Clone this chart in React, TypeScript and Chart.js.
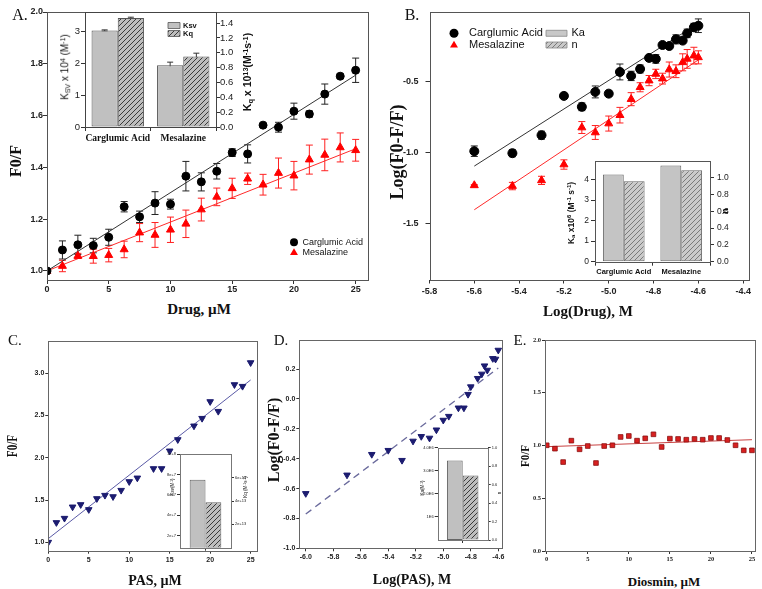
import React, { useEffect, useRef } from "react";
import { Chart, registerables } from "chart.js";
Chart.register(...registerables);

// ---------------- Panel A: Stern-Volmer ----------------
const drugConcA = [0, 1.25, 2.5, 3.75, 5, 6.25, 7.5, 8.75, 10, 11.25, 12.5, 13.75, 15, 16.25, 17.5, 18.75, 20, 21.25, 22.5, 23.75, 25];
const carglumicA = [1.0, 1.081, 1.101, 1.098, 1.13, 1.248, 1.209, 1.262, 1.258, 1.366, 1.344, 1.385, 1.457, 1.452, 1.563, 1.555, 1.617, 1.606, 1.683, 1.752, 1.775];
const carglumicAErr = [0, 0.035, 0.037, 0.028, 0.031, 0.02, 0.022, 0.044, 0.019, 0.057, 0.035, 0.03, 0.015, 0.035, 0.006, 0.019, 0.031, 0.012, 0.039, 0.008, 0.047];
const mesalazineA = [1.0, 1.019, 1.058, 1.057, 1.061, 1.083, 1.148, 1.139, 1.159, 1.182, 1.237, 1.286, 1.319, 1.356, 1.333, 1.378, 1.368, 1.43, 1.448, 1.477, 1.466];
const mesalazineAErr = [0, 0.022, 0.01, 0.027, 0.026, 0.032, 0.035, 0.048, 0.049, 0.053, 0.044, 0.034, 0.039, 0.022, 0.04, 0.058, 0.055, 0.056, 0.061, 0.056, 0.042];
const fitXA = [0, 25];
const carglumicFitA = [1.0, 1.756];
const mesalazineFitA = [1.0, 1.472];
const xTicksA = [0, 5, 10, 15, 20, 25];
const yTicksA = [1.0, 1.2, 1.4, 1.6, 1.8, 2.0];

// Inset A
const insetDrugs = ["Carglumic Acid", "Mesalazine"];
const ksvA = [3.02, 1.93];
const ksvAErr = [0.02, 0.1];
const kqA = [1.47, 0.95];
const kqAErr = [0.01, 0.045];
const ksvTicks = [0, 1, 2, 3];
const kqTicks = [0, 0.2, 0.4, 0.6, 0.8, 1.0, 1.2, 1.4];

// ---------------- Panel B: double log ----------------
const logDrugB = [-5.60, -5.43, -5.30, -5.20, -5.12, -5.06, -5.00, -4.95, -4.90, -4.86, -4.82, -4.79, -4.76, -4.73, -4.70, -4.67, -4.65, -4.62, -4.60];
const carglumicB = [-0.991, -1.005, -0.878, -0.601, -0.678, -0.573, -0.585, -0.432, -0.46, -0.411, -0.333, -0.34, -0.242, -0.249, -0.202, -0.211, -0.16, -0.117, -0.106];
const carglumicBErr = [0.037, 0.025, 0.028, 0.019, 0.027, 0.042, 0.02, 0.056, 0.033, 0.028, 0.013, 0.03, 0.016, 0.014, 0.032, 0.019, 0.03, 0.028, 0.048];
const mesalazineB = [-1.232, -1.237, -1.197, -1.085, -0.824, -0.859, -0.796, -0.737, -0.624, -0.54, -0.493, -0.446, -0.479, -0.415, -0.427, -0.364, -0.34, -0.317, -0.329];
const mesalazineBErr = [0.005, 0.026, 0.029, 0.033, 0.042, 0.049, 0.053, 0.055, 0.046, 0.032, 0.036, 0.033, 0.038, 0.053, 0.045, 0.06, 0.066, 0.059, 0.046];
const fitXB = [-5.6, -4.6];
const carglumicFitB = [-1.096, -0.089];
const mesalazineFitB = [-1.404, -0.347];
const xTicksB = [-5.8, -5.6, -5.4, -5.2, -5.0, -4.8, -4.6, -4.4];
const yTicksB = [-1.5, -1.0, -0.5];

// Inset B
const kaB = [4.24, 4.68];
const nB = [0.96, 1.09];
const kaTicks = [0, 1, 2, 3, 4];
const nTicks = [0, 0.2, 0.4, 0.6, 0.8, 1.0];

// ---------------- Panel C: PAS Stern-Volmer ----------------
const pasConc = [0, 1, 2, 3, 4, 5, 6, 7, 8, 9, 10, 11, 13, 14, 15, 16, 18, 19, 20, 21, 23, 24, 25];
const pasF0F = [1.0, 1.233, 1.284, 1.418, 1.446, 1.387, 1.517, 1.556, 1.54, 1.615, 1.718, 1.761, 1.872, 1.872, 2.081, 2.215, 2.377, 2.467, 2.665, 2.55, 2.866, 2.846, 3.126];
const pasFitX = [0, 25];
const pasFitY = [1.043, 2.921];
const xTicksC = [0, 5, 10, 15, 20, 25];
const yTicksC = [1.0, 1.5, 2.0, 2.5, 3.0];
const ksvPAS = [7.5];
const kqPAS = [3.9];
const ksvPASTicks = [2, 4, 6, 8, 10];
const kqPASTicks = [2, 4, 6];

// ---------------- Panel D: PAS double log ----------------
const logPAS = [-6.00, -5.70, -5.52, -5.40, -5.30, -5.22, -5.16, -5.10, -5.05, -5.00, -4.96, -4.89, -4.85, -4.82, -4.80, -4.75, -4.72, -4.70, -4.68, -4.64, -4.62, -4.60];
const logPASResp = [-0.633, -0.509, -0.371, -0.344, -0.411, -0.282, -0.251, -0.262, -0.207, -0.142, -0.116, -0.06, -0.06, 0.031, 0.082, 0.138, 0.167, 0.222, 0.193, 0.271, 0.267, 0.327];
const logPASFitX = [-6.0, -4.6];
const logPASFitY = [-0.771, 0.207];
const xTicksD = [-6.0, -5.8, -5.6, -5.4, -5.2, -5.0, -4.8, -4.6];
const yTicksD = [-1.0, -0.8, -0.6, -0.4, -0.2, 0.0, 0.2];
const kaPAS = [3.44];
const nPAS = [0.70];
const kaPASTicks = [1, 2, 3, 4];
const nPASTicks = [0, 0.2, 0.4, 0.6, 0.8, 1.0];

// ---------------- Panel E: Diosmin ----------------
const diosminConc = [0, 1, 2, 3, 4, 5, 6, 7, 8, 9, 10, 11, 12, 13, 14, 15, 16, 17, 18, 19, 20, 21, 22, 23, 24, 25];
const diosminF0F = [1.002, 0.97, 0.843, 1.046, 0.964, 0.995, 0.834, 0.995, 1.002, 1.081, 1.09, 1.046, 1.068, 1.106, 0.986, 1.065, 1.062, 1.055, 1.062, 1.055, 1.071, 1.071, 1.052, 1.002, 0.954, 0.954];
const diosminFitX = [0, 25];
const diosminFitY = [0.989, 1.055];
const xTicksE = [0, 5, 10, 15, 20, 25];
const yTicksE = [0, 0.5, 1.0, 1.5, 2.0];

// ---------------- helpers ----------------
const SANS = "'Liberation Sans', Arial, sans-serif";
const SERIF = "'Liberation Serif', 'Times New Roman', serif";

const pts = (xs: number[], ys: number[]) => xs.map((x, i) => ({ x, y: ys[i] }));

function hatch(bg: string, fg: string, size = 5) {
  const c = document.createElement("canvas");
  c.width = size;
  c.height = size;
  const x = c.getContext("2d")!;
  x.fillStyle = bg;
  x.fillRect(0, 0, size, size);
  x.strokeStyle = fg;
  x.lineWidth = 1;
  x.beginPath();
  x.moveTo(0, size);
  x.lineTo(size, 0);
  x.moveTo(-1, 1);
  x.lineTo(1, -1);
  x.moveTo(size - 1, size + 1);
  x.lineTo(size + 1, size - 1);
  x.stroke();
  return x.createPattern(c, "repeat")!;
}

function framePlugin(color: string) {
  return {
    id: "frame",
    afterDraw(chart: any) {
      const { left, top, right, bottom } = chart.chartArea;
      const c = chart.ctx;
      c.save();
      c.strokeStyle = color;
      c.lineWidth = 1;
      c.strokeRect(Math.round(left) + 0.5, Math.round(top) + 0.5, Math.round(right) - Math.round(left), Math.round(bottom) - Math.round(top));
      c.restore();
    },
  };
}

const whiteBg = {
  id: "whiteBg",
  beforeDraw(chart: any) {
    const { left, top, right, bottom } = chart.chartArea;
    const c = chart.ctx;
    c.save();
    c.fillStyle = "#fff";
    c.fillRect(left, top, right - left, bottom - top);
    c.restore();
  },
};

type ErrSpec = { ds: number; err: number[]; color: string; cap: number };
function errPlugin(specs: ErrSpec[]) {
  return {
    id: "errBars",
    beforeDatasetsDraw(chart: any) {
      const ctx = chart.ctx;
      specs.forEach((s) => {
        const meta = chart.getDatasetMeta(s.ds);
        const ds = chart.data.datasets[s.ds];
        const ys = chart.scales[meta.yAxisID];
        ctx.save();
        ctx.strokeStyle = s.color;
        ctx.lineWidth = 1;
        meta.data.forEach((el: any, i: number) => {
          const e = s.err[i];
          if (!e) return;
          const raw = ds.data[i];
          const v = typeof raw === "number" ? raw : raw.y;
          const x = el.x;
          const y1 = ys.getPixelForValue(v + e);
          const y2 = ys.getPixelForValue(v - e);
          ctx.beginPath();
          ctx.moveTo(x, y1);
          ctx.lineTo(x, y2);
          ctx.moveTo(x - s.cap, y1);
          ctx.lineTo(x + s.cap, y1);
          ctx.moveTo(x - s.cap, y2);
          ctx.lineTo(x + s.cap, y2);
          ctx.stroke();
        });
        ctx.restore();
      });
    },
  };
}

type LegItem = {
  kind: "circle" | "triangle" | "box";
  x: number;
  y: number;
  r?: number;
  w?: number;
  h?: number;
  fill: any;
  stroke?: string;
  label: string;
  tx: number;
  font: string;
};
function legendPlugin(items: LegItem[]) {
  return {
    id: "customLegend",
    afterDraw(chart: any) {
      const ctx = chart.ctx;
      items.forEach((it) => {
        ctx.save();
        ctx.beginPath();
        if (it.kind === "circle") {
          ctx.arc(it.x, it.y, it.r!, 0, Math.PI * 2);
        } else if (it.kind === "triangle") {
          const r = it.r!;
          ctx.moveTo(it.x, it.y - r);
          ctx.lineTo(it.x + r * 0.866, it.y + r * 0.5);
          ctx.lineTo(it.x - r * 0.866, it.y + r * 0.5);
          ctx.closePath();
        } else {
          ctx.rect(it.x, it.y - it.h! / 2, it.w!, it.h!);
        }
        ctx.fillStyle = it.fill;
        ctx.fill();
        if (it.stroke) {
          ctx.strokeStyle = it.stroke;
          ctx.lineWidth = 0.8;
          ctx.stroke();
        }
        ctx.fillStyle = "#111";
        ctx.font = it.font;
        ctx.textBaseline = "middle";
        ctx.textAlign = "left";
        ctx.fillText(it.label, it.tx, it.y);
        ctx.restore();
      });
    },
  };
}

type Ax = { min: number; max: number; ticks: number[]; dec: number; size: number; pad: number };

function buildScatter(
  canvas: HTMLCanvasElement,
  o: {
    padTop: number;
    padRight: number;
    x: Ax;
    y: Ax;
    font: any;
    tickLen: number;
    datasets: any[];
    extra: any[];
    frame: string;
  }
) {
  const tickColor = "#333";
  return new Chart(canvas, {
    type: "scatter",
    data: { datasets: o.datasets },
    options: {
      responsive: false,
      animation: false,
      devicePixelRatio: 1,
      events: [],
      layout: { padding: { top: o.padTop, right: o.padRight, left: 0, bottom: 0 } },
      plugins: { legend: { display: false }, tooltip: { enabled: false } },
      scales: {
        x: {
          type: "linear",
          min: o.x.min,
          max: o.x.max,
          afterBuildTicks: (s: any) => {
            s.ticks = o.x.ticks.map((v) => ({ value: v }));
          },
          afterFit: (s: any) => {
            s.height = o.x.size;
          },
          ticks: {
            font: o.font,
            color: "#222",
            padding: o.x.pad,
            maxRotation: 0,
            autoSkip: false,
            callback: (v: any) => Number(v).toFixed(o.x.dec),
          },
          grid: { drawOnChartArea: false, tickLength: o.tickLen, color: tickColor },
          border: { display: false },
        },
        y: {
          type: "linear",
          min: o.y.min,
          max: o.y.max,
          afterBuildTicks: (s: any) => {
            s.ticks = o.y.ticks.map((v) => ({ value: v }));
          },
          afterFit: (s: any) => {
            s.width = o.y.size;
          },
          ticks: {
            font: o.font,
            color: "#222",
            padding: o.y.pad,
            autoSkip: false,
            callback: (v: any) => Number(v).toFixed(o.y.dec),
          },
          grid: { drawOnChartArea: false, tickLength: o.tickLen, color: tickColor },
          border: { display: false },
        },
      },
    } as any,
    plugins: [...o.extra, framePlugin(o.frame)],
  });
}

type BarAx = {
  data: number[];
  min: number;
  max: number;
  ticks: number[];
  fmt: (v: number) => string;
  fill: any;
  border: string;
  size: number;
  pad: number;
};
function buildInset(
  canvas: HTMLCanvasElement,
  o: {
    padTop: number;
    labels: string[];
    left: BarAx;
    right: BarAx;
    xH: number;
    catPct: number;
    tickFont: any;
    catFont: any;
    catPad: number;
    tickLen: number;
    gridOffset: boolean;
    frame: string;
    extra: any[];
  }
) {
  const tickColor = "#333";
  const yAxis = (a: BarAx, pos: string) => ({
    type: "linear",
    position: pos,
    min: a.min,
    max: a.max,
    afterBuildTicks: (s: any) => {
      s.ticks = a.ticks.map((v) => ({ value: v }));
    },
    afterFit: (s: any) => {
      s.width = a.size;
    },
    ticks: { font: o.tickFont, color: "#222", padding: a.pad, autoSkip: false, callback: (v: any) => a.fmt(Number(v)) },
    grid: { drawOnChartArea: false, tickLength: o.tickLen, color: tickColor },
    border: { display: false },
  });
  return new Chart(canvas, {
    type: "bar",
    data: {
      labels: o.labels,
      datasets: [
        {
          data: o.left.data,
          yAxisID: "y",
          backgroundColor: o.left.fill,
          borderColor: o.left.border,
          borderWidth: 1,
          borderSkipped: false,
          categoryPercentage: o.catPct,
          barPercentage: 1,
        },
        {
          data: o.right.data,
          yAxisID: "y2",
          backgroundColor: o.right.fill,
          borderColor: o.right.border,
          borderWidth: 1,
          borderSkipped: false,
          categoryPercentage: o.catPct,
          barPercentage: 1,
        },
      ],
    },
    options: {
      responsive: false,
      animation: false,
      devicePixelRatio: 1,
      events: [],
      layout: { padding: { top: o.padTop, right: 0, left: 0, bottom: 0 } },
      plugins: { legend: { display: false }, tooltip: { enabled: false } },
      scales: {
        x: {
          type: "category",
          afterFit: (s: any) => {
            s.height = o.xH;
          },
          ticks: { font: o.catFont, color: "#111", padding: o.catPad, maxRotation: 0, autoSkip: false },
          grid: { drawOnChartArea: false, tickLength: o.tickLen, color: tickColor, offset: o.gridOffset },
          border: { display: false },
        },
        y: yAxis(o.left, "left"),
        y2: yAxis(o.right, "right"),
      },
    } as any,
    plugins: [whiteBg, ...o.extra, framePlugin(o.frame)],
  });
}

// ---------------- HTML text ----------------
function Txt(p: { x: number; y: number; size: number; bold?: boolean; serif?: boolean; rot?: boolean; sx?: number; children: any }) {
  const sx = p.sx ?? 1;
  return (
    <div
      style={{
        position: "absolute",
        left: p.x,
        top: p.y,
        transform: `translate(-50%,-50%)${p.rot ? " rotate(-90deg)" : ""}${sx !== 1 ? ` scaleX(${sx})` : ""}`,
        fontFamily: p.serif === false ? SANS : SERIF,
        fontSize: p.size,
        fontWeight: p.bold ? 700 : 400,
        whiteSpace: "nowrap",
        lineHeight: 1,
        color: "#111",
        zIndex: 5,
      }}
    >
      {p.children}
    </div>
  );
}
const Sup = (p: { c: string }) => <span style={{ fontSize: "0.7em", verticalAlign: "0.45em" }}>{p.c}</span>;
const Sub = (p: { c: string }) => <span style={{ fontSize: "0.7em", verticalAlign: "-0.2em" }}>{p.c}</span>;

export default function App() {
  const rA = useRef<HTMLCanvasElement>(null);
  const rB = useRef<HTMLCanvasElement>(null);
  const rC = useRef<HTMLCanvasElement>(null);
  const rD = useRef<HTMLCanvasElement>(null);
  const rE = useRef<HTMLCanvasElement>(null);
  const rAi = useRef<HTMLCanvasElement>(null);
  const rBi = useRef<HTMLCanvasElement>(null);
  const rCi = useRef<HTMLCanvasElement>(null);
  const rDi = useRef<HTMLCanvasElement>(null);

  useEffect(() => {
    const charts: Chart[] = [];
    const bigTick = { family: SANS, size: 9, weight: "bold" };
    const smallTick = { family: SANS, size: 7, weight: "bold" };
    const hatchDark = hatch("#bdbdbd", "#3a3a3a", 5);
    const hatchLight = hatch("#cacaca", "#7a7a7a", 5);

    // ---- A ----
    charts.push(
      buildScatter(rA.current!, {
        padTop: 12,
        padRight: 12,
        x: { min: 0, max: 26, ticks: xTicksA, dec: 0, size: 20, pad: 0 },
        y: { min: 0.965, max: 2.0, ticks: yTicksA, dec: 1, size: 47, pad: 0 },
        font: bigTick,
        tickLen: 4,
        datasets: [
          { data: pts(drugConcA, carglumicA), pointStyle: "circle", pointRadius: 4, backgroundColor: "#000", borderColor: "#000" },
          { data: pts(drugConcA, mesalazineA), pointStyle: "triangle", pointRadius: 4.6, backgroundColor: "#ff0000", borderColor: "#ff0000" },
          { data: pts(fitXA, carglumicFitA), showLine: true, pointRadius: 0, borderColor: "#333", borderWidth: 1 },
          { data: pts(fitXA, mesalazineFitA), showLine: true, pointRadius: 0, borderColor: "#ff2a2a", borderWidth: 1 },
        ],
        extra: [
          errPlugin([
            { ds: 0, err: carglumicAErr, color: "#222", cap: 3.5 },
            { ds: 1, err: mesalazineAErr, color: "#ff2020", cap: 3.5 },
          ]),
          legendPlugin([
            { kind: "circle", x: 294, y: 242.3, r: 4, fill: "#000", label: "Carglumic Acid", tx: 302.5, font: `9px ${SANS}` },
            { kind: "triangle", x: 294, y: 252.8, r: 4.6, fill: "#ff0000", label: "Mesalazine", tx: 302.5, font: `9px ${SANS}` },
          ]),
        ],
        frame: "#555",
      })
    );

    // ---- B ----
    charts.push(
      buildScatter(rB.current!, {
        padTop: 12,
        padRight: 13,
        x: { min: -5.8, max: -4.374, ticks: xTicksB, dec: 1, size: 20.5, pad: 3 },
        y: { min: -1.896, max: -0.012, ticks: yTicksB, dec: 1, size: 49.5, pad: 7 },
        font: bigTick,
        tickLen: 4,
        datasets: [
          { data: pts(logDrugB, carglumicB), pointStyle: "circle", pointRadius: 4.5, backgroundColor: "#000", borderColor: "#000" },
          { data: pts(logDrugB, mesalazineB), pointStyle: "triangle", pointRadius: 4.6, backgroundColor: "#ff0000", borderColor: "#ff0000" },
          { data: pts(fitXB, carglumicFitB), showLine: true, pointRadius: 0, borderColor: "#333", borderWidth: 1 },
          { data: pts(fitXB, mesalazineFitB), showLine: true, pointRadius: 0, borderColor: "#ff2a2a", borderWidth: 1 },
        ],
        extra: [
          errPlugin([
            { ds: 0, err: carglumicBErr, color: "#222", cap: 3.5 },
            { ds: 1, err: mesalazineBErr, color: "#ff2020", cap: 3.5 },
          ]),
          legendPlugin([
            { kind: "circle", x: 74, y: 33.3, r: 4.5, fill: "#000", label: "Carglumic Acid", tx: 89, font: `11px ${SANS}` },
            { kind: "triangle", x: 74, y: 45.3, r: 4.6, fill: "#ff0000", label: "Mesalazine", tx: 89, font: `11px ${SANS}` },
            { kind: "box", x: 166, y: 33.3, w: 21, h: 6, fill: "#c8c8c8", stroke: "#888", label: "Ka", tx: 191.5, font: `11px ${SANS}` },
            { kind: "box", x: 166, y: 45, w: 21, h: 6, fill: hatchLight, stroke: "#888", label: "n", tx: 191.5, font: `11px ${SANS}` },
          ]),
        ],
        frame: "#555",
      })
    );

    // ---- C ----
    charts.push(
      buildScatter(rC.current!, {
        padTop: 20.7,
        padRight: 8.3,
        x: { min: 0, max: 25.75, ticks: xTicksC, dec: 0, size: 19.3, pad: 2 },
        y: { min: 0.9, max: 3.386, ticks: yTicksC, dec: 1, size: 48.3, pad: 1 },
        font: smallTick,
        tickLen: 3,
        datasets: [
          { data: pts(pasConc, pasF0F), pointStyle: "triangle", pointRotation: 180, pointRadius: 3.8, backgroundColor: "#1c1c70", borderColor: "#1c1c70" },
          { data: pts(pasFitX, pasFitY), showLine: true, pointRadius: 0, borderColor: "#5a5aa6", borderWidth: 1 },
        ],
        extra: [],
        frame: "#666",
      })
    );

    // ---- D ----
    charts.push(
      buildScatter(rD.current!, {
        padTop: 20,
        padRight: 8,
        x: { min: -6.047, max: -4.573, ticks: xTicksD, dec: 1, size: 21.7, pad: 2 },
        y: { min: -1.0, max: 0.395, ticks: yTicksD, dec: 1, size: 34.3, pad: 1 },
        font: smallTick,
        tickLen: 3,
        datasets: [
          { data: pts(logPAS, logPASResp), pointStyle: "triangle", pointRotation: 180, pointRadius: 3.8, backgroundColor: "#1c1c70", borderColor: "#1c1c70" },
          { data: pts(logPASFitX, logPASFitY), showLine: true, pointRadius: 0, borderColor: "#6a6a9c", borderWidth: 1.3, borderDash: [7, 5] },
        ],
        extra: [],
        frame: "#666",
      })
    );

    // ---- E ----
    charts.push(
      buildScatter(rE.current!, {
        padTop: 20,
        padRight: 7,
        x: { min: -0.21, max: 25.37, ticks: xTicksE, dec: 0, size: 19, pad: 1 },
        y: { min: 0, max: 2.0, ticks: yTicksE, dec: 1, size: 35, pad: 1 },
        font: { family: SERIF, size: 6.5, weight: "bold" },
        tickLen: 3,
        datasets: [
          { data: pts(diosminConc, diosminF0F), pointStyle: "rect", pointRadius: 3.3, backgroundColor: "#d82020", borderColor: "#8a1010", borderWidth: 0.8 },
          { data: pts(diosminFitX, diosminFitY), showLine: true, pointRadius: 0, borderColor: "#c84040", borderWidth: 1 },
        ],
        extra: [],
        frame: "#666",
      })
    );

    // ---- inset A ----
    charts.push(
      buildInset(rAi.current!, {
        padTop: 12,
        labels: insetDrugs,
        left: { data: ksvA, min: 0, max: 3.6, ticks: ksvTicks, fmt: (v) => String(v), fill: "#c0c0c0", border: "#555", size: 25, pad: 1 },
        right: { data: kqA, min: 0, max: 1.55, ticks: kqTicks, fmt: (v) => v.toFixed(1), fill: hatchDark, border: "#555", size: 29, pad: 0 },
        xH: 23,
        catPct: 0.8,
        tickFont: { family: SANS, size: 9.5 },
        catFont: { family: SERIF, size: 9.5, weight: "bold" },
        catPad: 2,
        tickLen: 4,
        gridOffset: true,
        frame: "#444",
        extra: [
          errPlugin([
            { ds: 0, err: ksvAErr, color: "#333", cap: 3 },
            { ds: 1, err: kqAErr, color: "#333", cap: 3 },
          ]),
          legendPlugin([
            { kind: "box", x: 108, y: 25.5, w: 12, h: 6, fill: "#c0c0c0", stroke: "#555", label: "Ksv", tx: 123, font: `bold 7.5px ${SANS}` },
            { kind: "box", x: 108, y: 33.5, w: 12, h: 6, fill: hatchDark, stroke: "#555", label: "Kq", tx: 123, font: `bold 7.5px ${SANS}` },
          ]),
        ],
      })
    );

    // ---- inset B ----
    charts.push(
      buildInset(rBi.current!, {
        padTop: 11,
        labels: insetDrugs,
        left: { data: kaB, min: 0, max: 4.9, ticks: kaTicks, fmt: (v) => String(v), fill: "#c4c4c4", border: "#666", size: 35, pad: 2 },
        right: { data: nB, min: 0, max: 1.2, ticks: nTicks, fmt: (v) => v.toFixed(1), fill: hatchLight, border: "#666", size: 35, pad: 3 },
        xH: 20.3,
        catPct: 0.725,
        tickFont: { family: SANS, size: 8.5 },
        catFont: { family: SANS, size: 7.5, weight: "bold" },
        catPad: 2,
        tickLen: 4,
        gridOffset: true,
        frame: "#555",
        extra: [],
      })
    );

    // ---- inset C ----
    charts.push(
      buildInset(rCi.current!, {
        padTop: 9.3,
        labels: [""],
        left: { data: ksvPAS, min: 0.8, max: 10, ticks: ksvPASTicks, fmt: (v) => (v === 10 ? "1e+8" : v + "e+7"), fill: "#c0c0c0", border: "#666", size: 30, pad: 1 },
        right: { data: kqPAS, min: 0, max: 8, ticks: kqPASTicks, fmt: (v) => v + "e+13", fill: hatchDark, border: "#666", size: 29, pad: 1 },
        xH: 7.3,
        catPct: 0.62,
        tickFont: { family: SANS, size: 4 },
        catFont: { family: SANS, size: 4 },
        catPad: 0,
        tickLen: 3,
        gridOffset: false,
        frame: "#777",
        extra: [],
      })
    );

    // ---- inset D ----
    charts.push(
      buildInset(rDi.current!, {
        padTop: 7.7,
        labels: [""],
        left: { data: kaPAS, min: 0, max: 4, ticks: kaPASTicks, fmt: (v) => (v === 1 ? "1E6" : v.toFixed(1) + "E6"), fill: "#c0c0c0", border: "#666", size: 32.7, pad: 1 },
        right: { data: nPAS, min: 0, max: 1.0, ticks: nPASTicks, fmt: (v) => v.toFixed(1), fill: hatchDark, border: "#666", size: 22.3, pad: 1 },
        xH: 5,
        catPct: 0.63,
        tickFont: { family: SANS, size: 4 },
        catFont: { family: SANS, size: 4 },
        catPad: 0,
        tickLen: 3,
        gridOffset: false,
        frame: "#777",
        extra: [],
      })
    );

    return () => charts.forEach((c) => c.destroy());
  }, []);

  const cv = (ref: any, l: number, t: number, w: number, h: number) => (
    <canvas ref={ref} width={w} height={h} style={{ position: "absolute", left: l, top: t, width: w, height: h }} />
  );

  return (
    <div style={{ position: "absolute", left: 0, top: 0, width: 762, height: 589, background: "#fff", overflow: "hidden" }}>
      {cv(rA, 0, 0, 380, 300)}
      {cv(rB, 380, 0, 382, 300)}
      {cv(rC, 0, 320, 265, 250)}
      {cv(rD, 265, 320, 245, 250)}
      {cv(rE, 510, 320, 252, 250)}
      {cv(rAi, 60, 0, 185, 150)}
      {cv(rBi, 560, 150, 185, 132)}
      {cv(rCi, 150, 445, 110, 110)}
      {cv(rDi, 405, 440, 105, 105)}

      {/* panel letters */}
      <Txt x={20} y={15} size={16}>A.</Txt>
      <Txt x={412} y={15} size={16}>B.</Txt>
      <Txt x={15} y={340} size={15}>C.</Txt>
      <Txt x={281} y={340} size={15}>D.</Txt>
      <Txt x={520} y={340} size={15}>E.</Txt>

      {/* axis titles */}
      <Txt x={16} y={161} size={16} bold rot>F0/F</Txt>
      <Txt x={199} y={309} size={15} bold>Drug, µM</Txt>
      <Txt x={397} y={152} size={18} bold rot>Log(F0-F/F)</Txt>
      <Txt x={588} y={311} size={15} bold>Log(Drug), M</Txt>
      <Txt x={13} y={446} size={14} bold rot sx={0.8}>F0/F</Txt>
      <Txt x={155} y={581} size={14} bold>PAS, µM</Txt>
      <Txt x={274} y={440} size={16} bold rot>Log(F0-F/F)</Txt>
      <Txt x={412} y={580} size={14} bold>Log(PAS), M</Txt>
      <Txt x={524} y={456} size={13} bold rot sx={0.85}>F0/F</Txt>
      <Txt x={664} y={581} size={13} bold>Diosmin, µM</Txt>

      {/* inset titles */}
      <Txt x={65} y={67} size={10} serif={false} rot>
        K<Sub c="SV" /> x 10<Sup c="4" /> (M<Sup c="-1" />)
      </Txt>
      <Txt x={248} y={72} size={10.5} serif={false} bold rot>
        K<Sub c="q" /> x 10<Sup c="13" />(M<Sup c="-1" />s<Sup c="-1" />)
      </Txt>
      <Txt x={572} y={213} size={8.5} serif={false} bold rot>
        K<Sub c="a" /> x10<Sup c="6" /> (M<Sup c="-1" /> s<Sup c="-1" />)
      </Txt>
      <Txt x={725} y={211} size={9} serif={false} bold rot>n</Txt>
      <Txt x={173} y={487} size={4.5} serif={false} rot>
        Ksv(M<Sup c="-1" />)
      </Txt>
      <Txt x={246} y={487} size={4.5} serif={false} rot>
        Kq (M<Sup c="-1" />s<Sup c="-1" />)
      </Txt>
      <Txt x={423} y={488} size={4.5} serif={false} rot>
        Ka(M<Sup c="-1" />)
      </Txt>
      <Txt x={500} y={493} size={4.5} serif={false} rot>n</Txt>
    </div>
  );
}
